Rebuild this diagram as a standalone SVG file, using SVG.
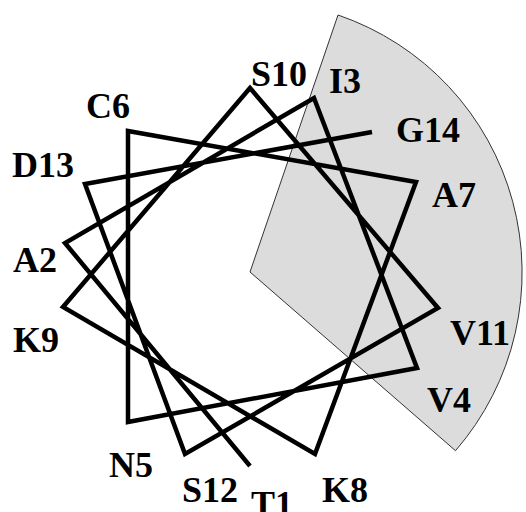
<svg xmlns="http://www.w3.org/2000/svg" width="526" height="512" viewBox="0 0 526 512">
<style>
.lbl{font-family:"Liberation Serif","Times New Roman",serif;font-weight:bold;font-size:36px;fill:#000}
.wheel{fill:none;stroke:#000;stroke-width:4.5;stroke-linejoin:miter;stroke-miterlimit:10}
.sector{fill:#dcdcdc;stroke:#333;stroke-width:1}
</style>
<rect width="526" height="512" fill="#fff"/>
<g id="sector"><path class="sector" d="M250,272 L338,15 A272,272 0 0 1 455.5,450.7 Z"/></g>
<g id="connectors">
<polyline class="wheel" points="250,466 65,243 314,98 417,368 128,422 128,131 416,182 315,454 63,307 250,88 438,308 185,454 85,184 372,132"/>
</g>
<g id="T1"><text class="lbl" x="251" y="516">T1</text></g>
<g id="A2"><text class="lbl" x="13" y="272">A2</text></g>
<g id="I3"><text class="lbl" x="329" y="93">I3</text></g>
<g id="V4"><text class="lbl" x="427" y="412">V4</text></g>
<g id="N5"><text class="lbl" x="109" y="477">N5</text></g>
<g id="C6"><text class="lbl" x="86" y="118">C6</text></g>
<g id="A7"><text class="lbl" x="432" y="207">A7</text></g>
<g id="K8"><text class="lbl" x="322" y="502">K8</text></g>
<g id="K9"><text class="lbl" x="13" y="352">K9</text></g>
<g id="S10"><text class="lbl" x="251" y="86">S10</text></g>
<g id="V11"><text class="lbl" x="450" y="345">V11</text></g>
<g id="S12"><text class="lbl" x="182" y="502">S12</text></g>
<g id="D13"><text class="lbl" x="12" y="177">D13</text></g>
<g id="G14"><text class="lbl" x="396" y="142">G14</text></g>
</svg>
